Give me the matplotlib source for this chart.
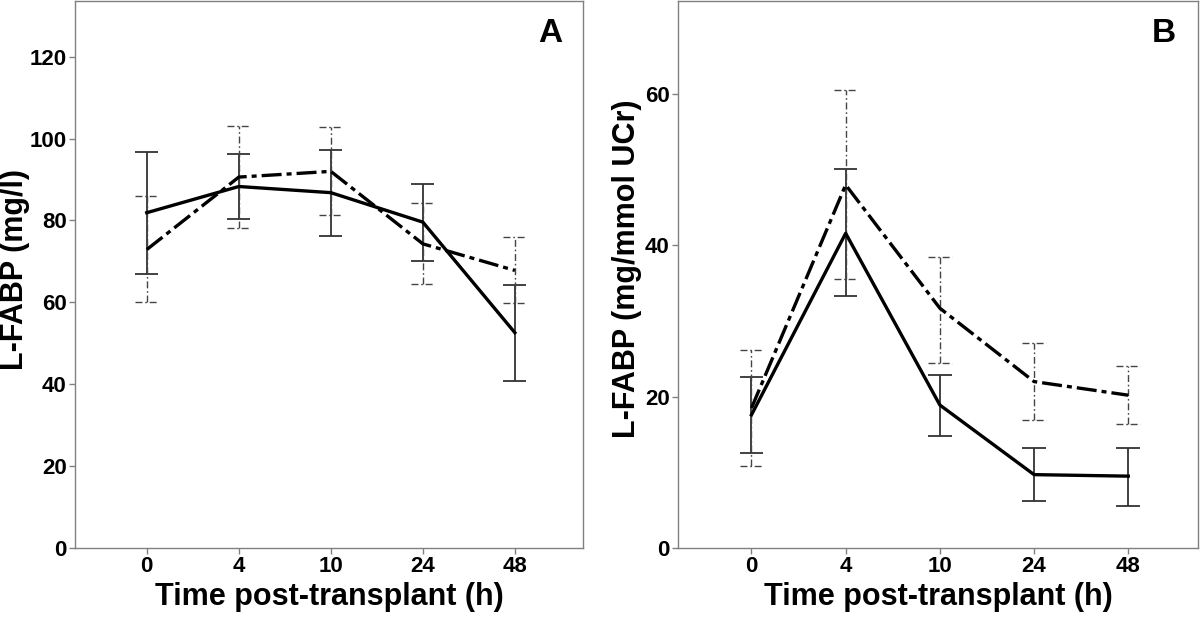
import matplotlib.pyplot as plt
import numpy as np

plt.rcParams['font.family'] = ['Liberation Sans', 'DejaVu Sans']
plt.rcParams['font.weight'] = 'bold'

times = ['0', '4', '10', '24', '48']

# panel A, L-FABP (mg/l)
a_solid = [81.9, 88.3, 86.8, 79.6, 52.6]
a_solid_hi = [96.7, 96.3, 97.3, 88.8, 64.3]
a_solid_lo = [66.9, 80.4, 76.3, 70.2, 40.8]
a_dash = [72.9, 90.6, 92.0, 74.3, 67.8]
a_dash_hi = [86.1, 103.0, 102.8, 84.2, 75.9]
a_dash_lo = [60.0, 78.1, 81.3, 64.5, 59.8]

# panel B, L-FABP (mg/mmol UCr)
b_solid = [17.6, 41.6, 18.9, 9.7, 9.5]
b_solid_hi = [22.6, 50.1, 22.9, 13.2, 13.2]
b_solid_lo = [12.5, 33.3, 14.8, 6.2, 5.6]
b_dash = [18.5, 48.0, 31.7, 22.0, 20.2]
b_dash_hi = [26.2, 60.6, 38.5, 27.1, 24.0]
b_dash_lo = [10.9, 35.6, 24.5, 16.9, 16.4]

dashdot = (0, (6, 1.5, 1.5, 1.5))
thin_dd = (0, (5, 2, 1.2, 2))
cap = 0.125


def draw_group(ax, x, mean, hi, lo, ls, bar_ls, bar_lw, bar_col):
    ax.vlines(x, lo, hi, colors=bar_col, linestyles=bar_ls, lw=bar_lw, zorder=2)
    ax.hlines(hi, x - cap, x + cap, colors=bar_col, linestyles=bar_ls, lw=bar_lw, zorder=2)
    ax.hlines(lo, x - cap, x + cap, colors=bar_col, linestyles=bar_ls, lw=bar_lw, zorder=2)
    ax.plot(x, mean, color='black', linestyle=ls, lw=2.4, zorder=3)


def style(ax, ylim, yticks, ylabel, letter, lab_x):
    ax.set_xlim(-0.78, 4.74)
    ax.set_ylim(*ylim)
    ax.set_yticks(yticks)
    ax.set_xticks(np.arange(len(times)))
    ax.set_xticklabels(times)
    for s in ax.spines.values():
        s.set_color('#808080')
        s.set_linewidth(1)
    ax.tick_params(colors='#808080', labelcolor='black', labelsize=16, length=4, width=1, pad=2)
    for lab in ax.get_xticklabels() + ax.get_yticklabels():
        lab.set_fontweight('bold')
    ax.set_xlabel('Time post-transplant (h)', fontsize=22, fontweight='bold', labelpad=3)
    ax.set_ylabel(ylabel, fontsize=22, fontweight='bold')
    ax.yaxis.set_label_coords(lab_x, 0.51)
    ax.text(0.935, 0.94, letter, transform=ax.transAxes, fontsize=24, fontweight='bold',
            ha='center', va='center')


fig = plt.figure(figsize=(12, 6.17), dpi=100)
axA = fig.add_axes([0.0625, 0.1118, 0.4233, 0.8865])
axB = fig.add_axes([0.565, 0.1118, 0.4333, 0.8865])

x = np.arange(len(times))

draw_group(axA, x, a_solid, a_solid_hi, a_solid_lo, '-', '-', 1.3, '#333333')
draw_group(axA, x, a_dash, a_dash_hi, a_dash_lo, dashdot, thin_dd, 1.0, '#444444')
style(axA, (0, 133.6), [0, 20, 40, 60, 80, 100, 120], 'L-FABP (mg/l)', 'A', -0.088)

draw_group(axB, x, b_solid, b_solid_hi, b_solid_lo, '-', '-', 1.3, '#333333')
draw_group(axB, x, b_dash, b_dash_hi, b_dash_lo, dashdot, thin_dd, 1.0, '#444444')
style(axB, (0, 72.3), [0, 20, 40, 60], 'L-FABP (mg/mmol UCr)', 'B', -0.07)

fig.savefig('out.png', dpi=100)
